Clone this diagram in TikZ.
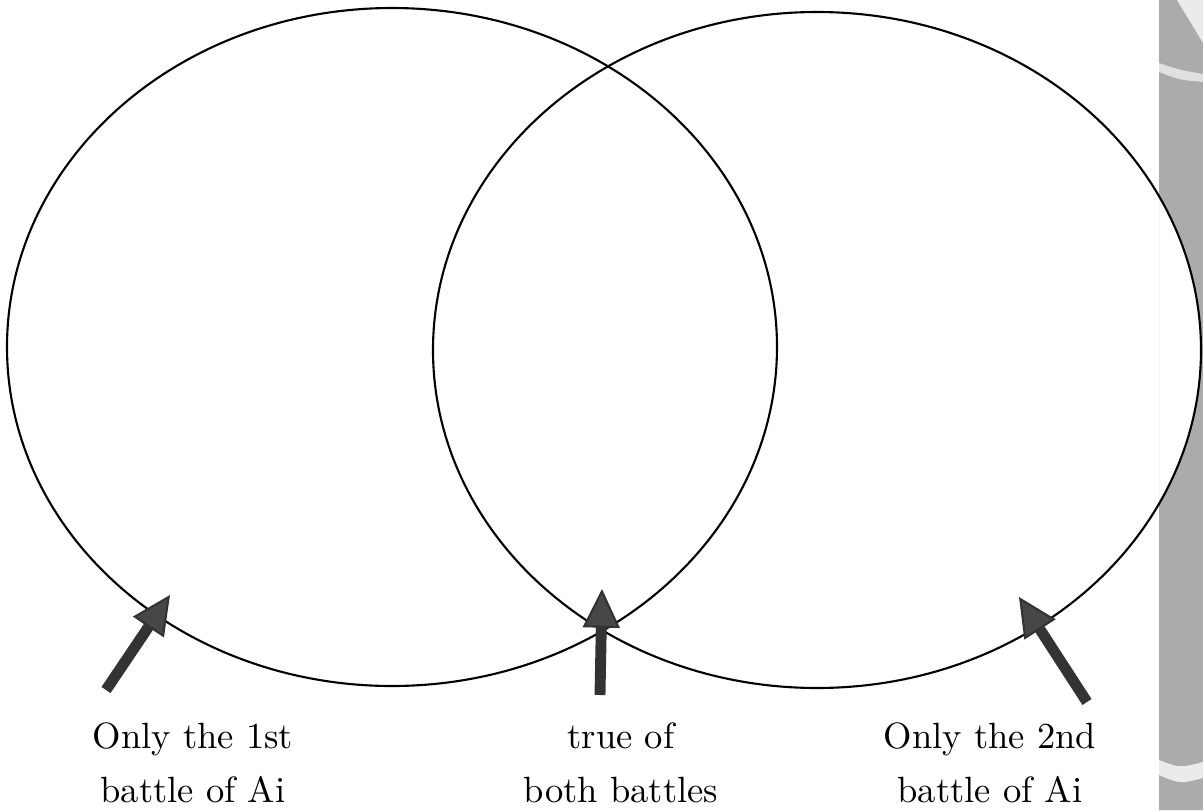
\documentclass[tikz,border=0pt]{standalone}
\usepackage{xcolor}
\usepackage{tikz}
\usetikzlibrary{arrows.meta,positioning,calc}

\begin{document}
\begin{tikzpicture}[
    ring/.style={draw=black, line width=0.6pt},
    pointer/.style={draw=black!80, line width=3.1pt, -{Triangle[length=11pt,width=10.5pt,line width=0.6pt,fill=black!72]}},
    caption/.style={font=\fontsize{10.4}{15.4}\selectfont, align=center, inner sep=0pt, anchor=north}
]
\useasboundingbox (0,0) rectangle (12.03,8.10);
% scanned page edge on the right
\begin{scope}
  \clip (11.59,0) rectangle (12.03,8.10);
  \fill[black!33, even odd rule] (11.59,0) rectangle (12.03,8.10)
    (8.17,4.60) ellipse [x radius=3.84, y radius=3.38];
  \fill[black!8] (11.77,8.10) -- (12.03,8.10) -- (12.03,7.67) -- cycle;
  \fill[black!12] (11.59,7.47) .. controls (11.80,7.40) .. (12.03,7.36)
    -- (12.03,7.28) .. controls (11.80,7.30) .. (11.59,7.38) -- cycle;
  \fill[black!8] (11.59,0.50) .. controls (11.80,0.42) .. (12.03,0.48)
    -- (12.03,0.32) .. controls (11.80,0.26) .. (11.59,0.35) -- cycle;
\end{scope}

\draw[ring] (3.92,4.63) ellipse [x radius=3.85, y radius=3.39];
\draw[ring] (8.17,4.60) ellipse [x radius=3.84, y radius=3.38];

\node[caption] (firstonly) at (1.93,0.88) {Only the 1st\\battle of Ai};
\node[caption] (bothtrue) at (6.21,0.88) {true of\\both battles};
\node[caption] (secondonly) at (9.90,0.88) {Only the 2nd\\battle of Ai};

\coordinate (firsttail) at (1.06,1.20);
\coordinate (firsttip) at (1.70,2.15);
\coordinate (bothtail) at (6.00,1.15);
\coordinate (bothtip) at (6.02,2.21);
\coordinate (secondtail) at (10.87,1.08);
\coordinate (secondtip) at (10.19,2.13);

\draw[pointer] (firsttail) -- (firsttip);
\draw[pointer] (bothtail) -- (bothtip);
\draw[pointer] (secondtail) -- (secondtip);
\end{tikzpicture}
\end{document}
